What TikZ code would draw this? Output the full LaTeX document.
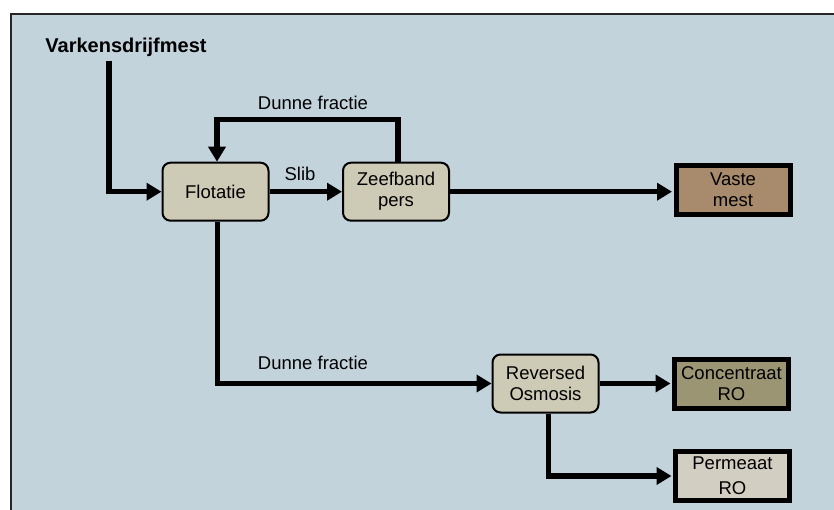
\documentclass[tikz,border=0pt]{standalone}
\usepackage{fontspec}
\setmainfont{Liberation Sans}
\usetikzlibrary{arrows.meta,calc}
\definecolor{panel}{RGB}{195,211,220}
\definecolor{procfill}{RGB}{205,202,181}
\definecolor{solidfill}{RGB}{167,139,108}
\definecolor{concfill}{RGB}{156,149,116}
\definecolor{permfill}{RGB}{210,206,194}
\tikzset{
  process/.style={draw=black, line width=2pt, rounded corners=8pt, fill=procfill,
    minimum width=106pt, minimum height=58pt, inner sep=0pt, align=center,
    font=\fontsize{18.5}{21}\selectfont},
  product/.style={draw=black, line width=5pt, fill=#1,
    minimum width=114pt, minimum height=49pt, inner sep=0pt, align=center},
  flow/.style={line width=5.5pt, -{Triangle[length=15pt,width=17pt]}},
  flowlabel/.style={font=\fontsize{18.5}{21}\selectfont, inner sep=0pt},
}
\begin{document}
\begin{tikzpicture}[x=1pt, y=-1pt]
  \useasboundingbox (0,0) rectangle (834,510);
  % panel
  \fill[white] (0,0) rectangle (834,510);
  \fill[panel] (11,14) rectangle (836,512);
  \draw[black!85, line width=2pt] (11,512) -- (11,14) -- (836,14);

  % process steps
  \node[process] (flot) at (215.5,191.7) {Flotatie};
  \node[process] (zeef) at (396,191.7) {Zeefband\\pers};
  \node[process] (ro)   at (545.5,383.5) {Reversed\\Osmosis};

  % products
  \node[product=solidfill, font=\fontsize{18.5}{21}\selectfont] (vaste) at (733,190) {Vaste\\mest};
  \node[product=concfill, font=\fontsize{18.5}{21}\selectfont] (conc) at (731.5,384) {Concentraat\\RO};
  \node[product=permfill, font=\fontsize{18.5}{25}\selectfont] (perm) at (732.5,476) {Permeaat\\RO};

  % feed
  \node[font=\fontsize{20}{22}\selectfont\bfseries, inner sep=0pt] (feedlabel) at (126,47) {Varkensdrijfmest};
  \coordinate (feed) at (109,61);

  % connectors
  \draw[flow] (feed) |- (flot.west);
  \draw[flow] (flot.east) -- (zeef.west);
  \draw[flow] ($(zeef.north)+(2,0)$) -- ++(0,-42) -| ($(flot.north)+(1.5,0)$);
  \draw[flow, shorten >=1.5pt] (zeef.east) -- (zeef.east -| vaste.west);
  \draw[flow] ($(flot.south)+(2,0)$) |- (ro.west);
  \draw[flow, shorten >=1.5pt] (ro.east) -- (ro.east -| conc.west);
  \draw[flow, shorten >=1.5pt] ($(ro.south)+(3,0)$) |- (perm.west);

  % flow labels
  \node[flowlabel] (slib) at (300,174) {Slib};
  \node[flowlabel] (dunne1) at (313,103) {Dunne fractie};
  \node[flowlabel] (dunne2) at (313,363) {Dunne fractie};
\end{tikzpicture}
\end{document}
